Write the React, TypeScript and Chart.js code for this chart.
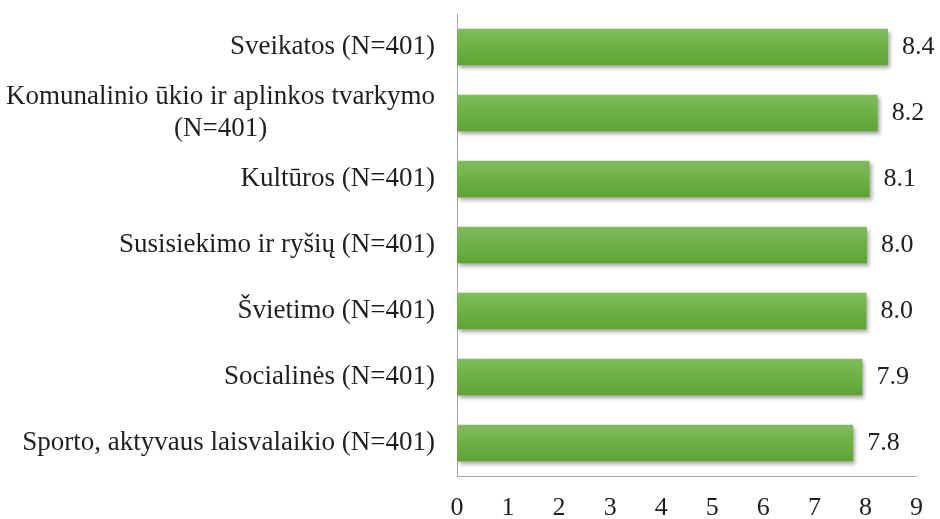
import React, { useEffect, useRef } from "react";
import { Chart, registerables } from "chart.js";

Chart.register(...registerables);

const categories: (string | string[])[] = [
  "Sveikatos (N=401)",
  ["Komunalinio ūkio ir aplinkos tvarkymo", "(N=401)"],
  "Kultūros (N=401)",
  "Susisiekimo ir ryšių (N=401)",
  "Švietimo (N=401)",
  "Socialinės (N=401)",
  "Sporto, aktyvaus laisvalaikio (N=401)",
];
const values = [8.44, 8.24, 8.08, 8.03, 8.02, 7.94, 7.76];
const xTicks = [0, 1, 2, 3, 4, 5, 6, 7, 8, 9];

const FONT = "'Liberation Serif', 'Times New Roman', serif";
const FONT_SIZE = 26;
const CAT_FONT_SIZE = 27;
const TEXT_COLOR = "#1f1f1f";
const AXIS_COLOR = "#a6a6a6";
const BAR_PCT = 0.55;

export default function App() {
  const ref = useRef<HTMLCanvasElement | null>(null);

  useEffect(() => {
    if (!ref.current) return;

    const shadowPlugin = {
      id: "barShadow",
      beforeDatasetDraw(chart: any) {
        const c = chart.ctx;
        c.save();
        c.shadowColor = "rgba(0,0,0,0.35)";
        c.shadowBlur = 4;
        c.shadowOffsetX = 2;
        c.shadowOffsetY = 3;
      },
      afterDatasetDraw(chart: any) {
        chart.ctx.restore();
      },
    };

    const labelPlugin = {
      id: "labels",
      afterDatasetsDraw(chart: any) {
        const c = chart.ctx;
        const meta = chart.getDatasetMeta(0);
        c.save();
        c.font = `${FONT_SIZE}px ${FONT}`;
        c.fillStyle = TEXT_COLOR;
        c.textBaseline = "middle";
        c.textAlign = "left";
        meta.data.forEach((bar: any, i: number) => {
          c.fillText(values[i].toFixed(1), bar.x + 14, bar.y);
        });
        // y category labels, multi-line centered on the widest line, block right-aligned
        const yScale = chart.scales.y;
        const right = chart.chartArea.left - 22;
        c.font = `${CAT_FONT_SIZE}px ${FONT}`;
        const lh = 32;
        c.textAlign = "center";
        categories.forEach((lab, i) => {
          const lines = Array.isArray(lab) ? lab : [lab];
          const maxW = Math.max(...lines.map((l) => c.measureText(l).width));
          const cx = right - maxW / 2;
          const cy = yScale.getPixelForValue(i);
          lines.forEach((l, j) => {
            c.fillText(l, cx, cy + (j - (lines.length - 1) / 2) * lh);
          });
        });
        c.restore();
      },
    };

    const chart = new Chart(ref.current, {
      type: "bar",
      data: {
        labels: categories as any,
        datasets: [
          {
            data: values,
            barPercentage: BAR_PCT,
            categoryPercentage: 1,
            borderWidth: 0,
            backgroundColor: (ctx: any) => {
              const ch = ctx.chart;
              const ys = ch.scales?.y;
              if (!ch.chartArea || !ys) return "#6aaf3e";
              const y = ys.getPixelForValue(ctx.dataIndex);
              const h = Math.abs(ys.getPixelForValue(1) - ys.getPixelForValue(0)) * BAR_PCT;
              const g = ch.ctx.createLinearGradient(0, y - h / 2, 0, y + h / 2);
              g.addColorStop(0, "#80bc5f");
              g.addColorStop(0.5, "#6db044");
              g.addColorStop(1, "#60a335");
              return g;
            },
          },
        ],
      },
      options: {
        indexAxis: "y",
        animation: false,
        responsive: true,
        maintainAspectRatio: false,
        layout: { padding: { top: 14, right: 23, left: 0, bottom: 0 } },
        plugins: {
          legend: { display: false },
          tooltip: { enabled: false },
        },
        scales: {
          x: {
            min: 0,
            max: 9,
            grid: { display: false, drawTicks: false },
            border: { display: true, color: AXIS_COLOR, width: 1 },
            afterBuildTicks: (s: any) => {
              s.ticks = xTicks.map((v) => ({ value: v }));
            },
            afterFit: (s: any) => {
              s.height = 43;
            },
            ticks: {
              padding: 17,
              color: TEXT_COLOR,
              font: { family: FONT, size: FONT_SIZE },
              maxRotation: 0,
            },
          },
          y: {
            grid: { display: false, drawTicks: false },
            border: { display: true, color: AXIS_COLOR, width: 1 },
            ticks: { display: false },
            afterFit: (s: any) => {
              s.width = 457;
            },
          },
        },
      },
      plugins: [shadowPlugin, labelPlugin],
    } as any);

    return () => chart.destroy();
  }, []);

  return (
    <div style={{ position: "absolute", left: 0, top: 0, width: 940, height: 519, background: "#fff" }}>
      <canvas ref={ref} />
    </div>
  );
}
